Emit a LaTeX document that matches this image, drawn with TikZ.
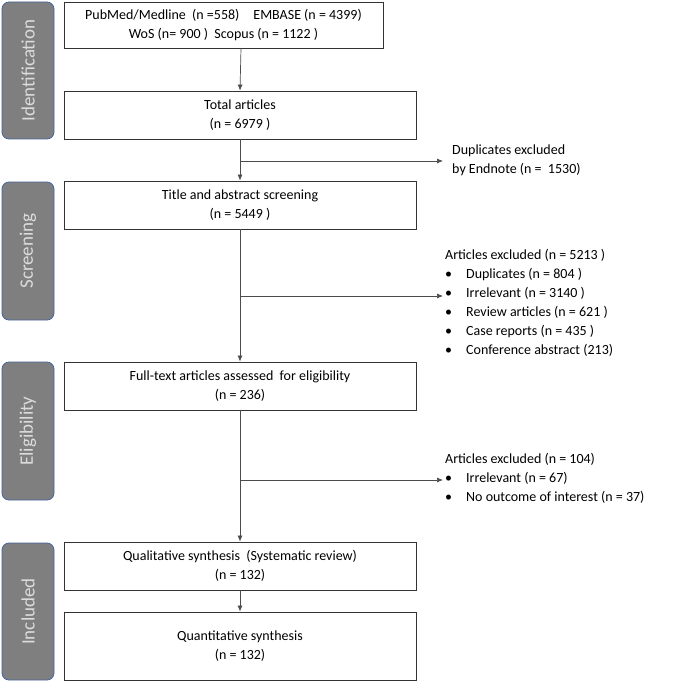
\documentclass[tikz,border=0pt]{standalone}
\usepackage{fontspec}
\setmainfont{Carlito}
\usetikzlibrary{arrows.meta}
\begin{document}
\begin{tikzpicture}[x=1pt,y=-1pt,
  box/.style={draw=black!80,line width=0.8pt,inner sep=0pt,align=center,font=\fontsize{14}{19}\selectfont},
  side/.style={draw=blue!40!gray,fill=gray!95!black!55,rounded corners=7pt,line width=0.8pt,text=white!85!gray,font=\fontsize{19}{22}\selectfont},
  side/.style={draw={rgb,255:red,70;green,100;blue,160},fill={rgb,255:red,127;green,127;blue,127},rounded corners=7pt,line width=0.8pt,text={rgb,255:red,220;green,220;blue,220},font=\fontsize{19}{22}\selectfont},
  txt/.style={anchor=north west,inner sep=0pt,align=left,font=\fontsize{14}{19}\selectfont},
  arr/.style={draw=black!70,line width=0.7pt,-{Latex[length=6pt,width=5pt]}},
  ln/.style={draw=black!70,line width=0.7pt}]
\useasboundingbox (0,0) rectangle (685,682);
% side labels
\node[side,minimum width=52pt,minimum height=137pt] (s1) at (28,70.5) {};
\node[rotate=90,text={rgb,255:red,220;green,220;blue,220},font=\fontsize{19}{22}\selectfont] (t1) at (s1.center) {Identification};
\node[side,minimum width=52pt,minimum height=138pt] (s2) at (28,251) {};
\node[rotate=90,text={rgb,255:red,220;green,220;blue,220},font=\fontsize{19}{22}\selectfont] (t2) at (s2.center) {Screening};
\node[side,minimum width=52pt,minimum height=138pt] (s3) at (28,431) {};
\node[rotate=90,text={rgb,255:red,220;green,220;blue,220},font=\fontsize{19}{22}\selectfont] (t3) at (s3.center) {Eligibility};
\node[side,minimum width=52pt,minimum height=137pt] (s4) at (28,611.5) {};
\node[rotate=90,text={rgb,255:red,220;green,220;blue,220},font=\fontsize{19}{22}\selectfont] (t4) at (s4.center) {Included};
% boxes
\node[box,minimum width=319pt,minimum height=46pt] (b1) at (223.5,25) {PubMed/Medline\ \ (n =558)\quad EMBASE (n = 4399)\\WoS (n= 900 )\ \ Scopus (n = 1122 )};
\node[box,minimum width=352pt,minimum height=48pt] (b2) at (240,115) {Total articles\\(n = 6979 )};
\node[box,minimum width=352pt,minimum height=48pt] (b3) at (240,205) {Title and abstract screening\\(n = 5449 )};
\node[box,minimum width=352pt,minimum height=48pt] (b4) at (240,386) {Full-text articles assessed\ \ for eligibility\\(n = 236)};
\node[box,minimum width=352pt,minimum height=48pt] (b5) at (240,566) {Qualitative synthesis\ \ (Systematic review)\\(n = 132)};
\node[box,minimum width=352pt,minimum height=68pt] (b6) at (240,646) {Quantitative synthesis\\(n = 132)};
% right texts
\node[txt] (r1) at (452,145) {Duplicates excluded\\by Endnote (n = \ 1530)};
\node[txt] (r2) at (445,249) {Articles excluded (n = 5213 )\\
\textbullet\hspace{14pt}Duplicates (n = 804 )\\
\textbullet\hspace{14pt}Irrelevant (n = 3140 )\\
\textbullet\hspace{14pt}Review articles (n = 621 )\\
\textbullet\hspace{14pt}Case reports (n = 435 )\\
\textbullet\hspace{14pt}Conference abstract (213)};
\node[txt] (r3) at (445,453) {Articles excluded (n = 104)\\
\textbullet\hspace{14pt}Irrelevant (n = 67)\\
\textbullet\hspace{14pt}No outcome of interest (n = 37)};
% connectors
\coordinate (j1) at (241,161);
\coordinate (e1) at (443,161);
\coordinate (j2) at (241,296);
\coordinate (e2) at (443,296);
\coordinate (j3) at (241,480);
\coordinate (e3) at (443,480);
\draw[arr] (241,48) -- (b2.north);
\draw[arr] (b2.south) -- (b3.north);
\draw[arr] (b3.south) -- (b4.north);
\draw[arr] (b4.south) -- (b5.north);
\draw[arr] (b5.south) -- (b6.north);
\draw[arr] (j1) -- (e1);
\draw[arr] (j2) -- (e2);
\draw[arr] (j3) -- (e3);
\end{tikzpicture}
\end{document}
